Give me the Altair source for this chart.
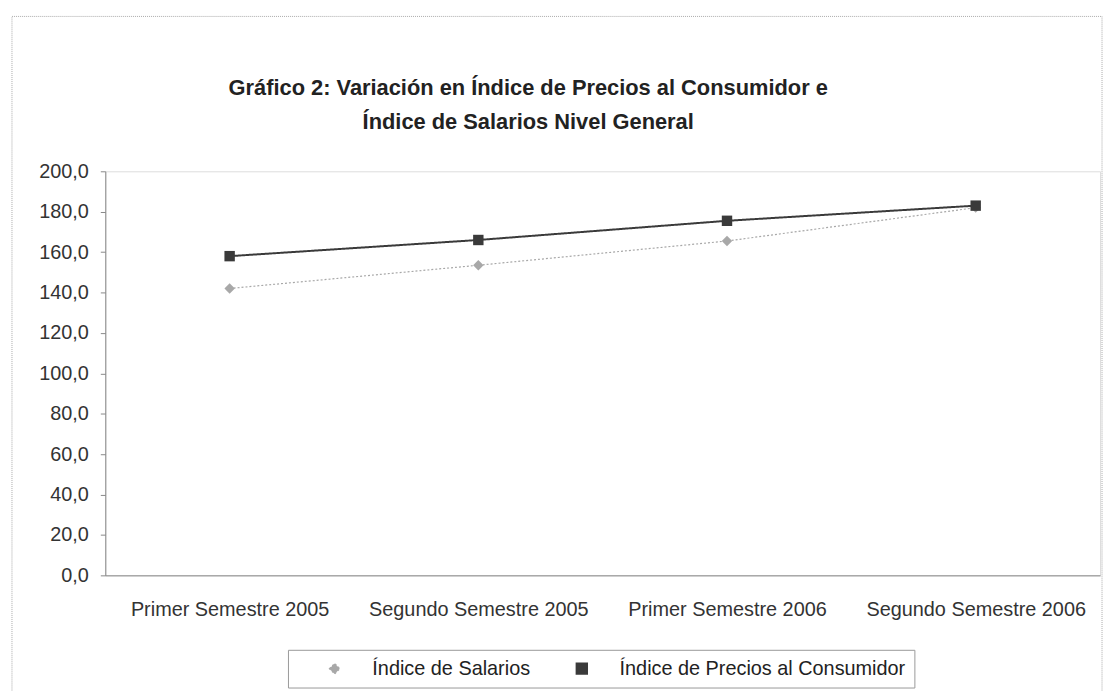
import altair as alt
import pandas as pd

categorias = ["Primer Semestre 2005", "Segundo Semestre 2005",
              "Primer Semestre 2006", "Segundo Semestre 2006"]
series = ["Índice de Salarios", "Índice de Precios al Consumidor"]
salarios = [142.0, 153.5, 165.5, 182.0]
precios = [158.0, 166.0, 175.5, 183.0]
y_ticks = [0, 20, 40, 60, 80, 100, 120, 140, 160, 180, 200]
titulo = ["Gráfico 2: Variación en Índice de Precios al Consumidor e",
          "Índice de Salarios Nivel General"]

rows = []
for c, s, p in zip(categorias, salarios, precios):
    rows.append({"Periodo": c, "Serie": series[0], "Valor": s})
    rows.append({"Periodo": c, "Serie": series[1], "Valor": p})
df = pd.DataFrame(rows)

FONT = "Liberation Sans"
W, H = 1002, 407

x_enc = alt.X("Periodo:N", sort=categorias,
              scale=alt.Scale(padding=0.5),
              axis=alt.Axis(title=None, labelAngle=0, labelFontSize=20,
                            labelPadding=24, ticks=False, labelColor="#333",
                            domainColor="#888", labelFont=FONT, labelLimit=0))
y_enc = alt.Y("Valor:Q", scale=alt.Scale(domain=[0, 200], nice=False),
              axis=alt.Axis(title=None, values=y_ticks, grid=False,
                            labelExpr="replace(format(datum.value, '.1f'), '.', ',')",
                            labelFontSize=20, labelPadding=12, tickSize=5,
                            tickColor="#888", domainColor="#888",
                            labelColor="#333", labelFont=FONT))
color_scale = alt.Scale(domain=series, range=["#a8a8a8", "#3a3a3a"])
legend = alt.Legend(title=None, orient="none", legendX=184, legendY=482,
                    direction="horizontal", strokeColor="#999", padding=9,
                    labelFontSize=20, labelFont=FONT, labelColor="#222",
                    labelLimit=0, symbolSize=110, columnPadding=14,
                    symbolOffset=28, labelOffset=28, symbolStrokeWidth=0)

lines = alt.Chart(df).mark_line().encode(
    x=x_enc, y=y_enc,
    color=alt.Color("Serie:N", scale=color_scale, legend=legend),
    strokeDash=alt.StrokeDash("Serie:N",
                              scale=alt.Scale(domain=series, range=[[2, 2], [1, 0]]),
                              legend=None),
    strokeWidth=alt.StrokeWidth("Serie:N",
                                scale=alt.Scale(domain=series, range=[1.2, 2.0]),
                                legend=None),
    detail="Serie:N",
)

points = alt.Chart(df).mark_point(filled=True, size=110, opacity=1).encode(
    x=x_enc, y=y_enc,
    color=alt.Color("Serie:N", scale=color_scale, legend=legend),
    shape=alt.Shape("Serie:N", scale=alt.Scale(domain=series, range=["diamond", "square"]),
                    legend=legend),
)

border = alt.Chart(pd.DataFrame({"a": [0]})).mark_rect(
    fill=None, stroke="#aaa", strokeDash=[1, 1], clip=False
).encode(x=alt.value(-94), x2=alt.value(1004), y=alt.value(-156), y2=alt.value(527))

title1 = alt.Chart(pd.DataFrame({"t": [titulo[0]]})).mark_text(
    font=FONT, fontSize=22, fontWeight="bold", color="#222", align="center",
    baseline="middle", clip=False
).encode(text="t:N", x=alt.value(426), y=alt.value(-84))

title2 = alt.Chart(pd.DataFrame({"t": [titulo[1]]})).mark_text(
    font=FONT, fontSize=22, fontWeight="bold", color="#222", align="center",
    baseline="middle", clip=False
).encode(text="t:N", x=alt.value(426), y=alt.value(-50))

chart = alt.layer(border, title1, title2, lines, points).properties(
    width=W, height=H,
    autosize=alt.AutoSizeParams(type="none"),
    padding={"left": 98, "top": 162, "right": 5, "bottom": 114},
).configure_view(stroke="#999", strokeWidth=1).configure(background="white")

chart.save("out.html", embed_options={"renderer": "svg", "actions": False})
